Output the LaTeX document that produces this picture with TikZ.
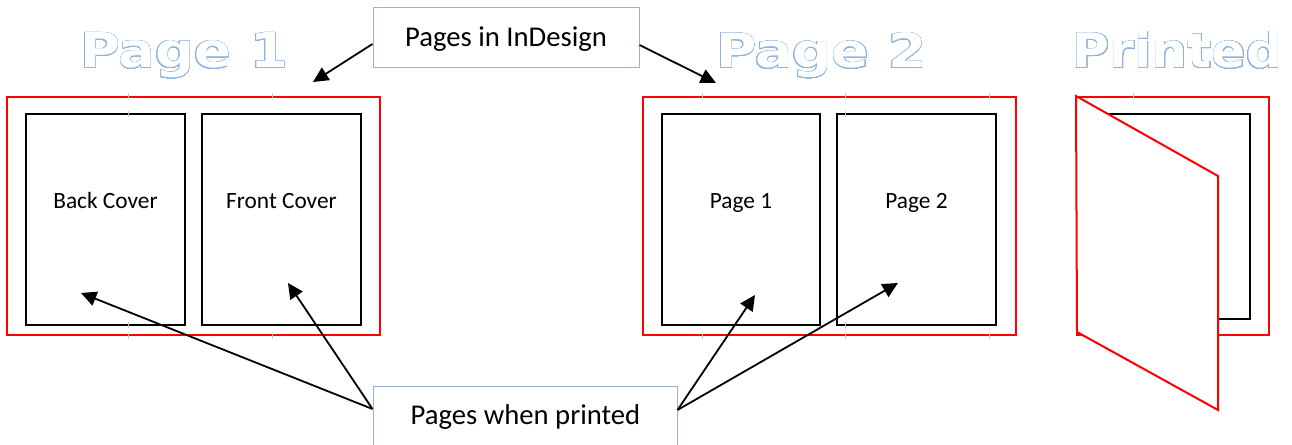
\documentclass[tikz,border=0pt]{standalone}
\usepackage{fontspec}
\setmainfont{Carlito}
\newfontfamily\headfont{DejaVu Sans}
\usepackage{contour}
\usetikzlibrary{arrows.meta,calc,fit}

\definecolor{frameRed}{RGB}{255,0,0}
\definecolor{calloutBlue}{RGB}{149,179,215}
\definecolor{titleBlue}{RGB}{141,180,226}
\definecolor{guideGray}{RGB}{200,200,200}
\contourlength{0.32pt}
\contournumber{48}

\tikzset{
  spread/.style={draw=frameRed, line width=1.5pt, inner sep=0pt},
  leaf/.style={draw=black, line width=1.4pt, inner sep=0pt},
  leaflabel/.style={font=\fontsize{17.5}{20}\selectfont, anchor=base, inner sep=0pt},
  callout/.style={draw=calloutBlue, line width=0.75pt, fill=white, inner sep=0pt},
  callouttext/.style={font=\fontsize{21.5}{24}\selectfont, anchor=base, inner sep=0pt},
  pointer/.style={line width=1.35pt, -{Triangle[length=11.5pt,width=11pt]}},
  headline/.style={anchor=base, inner sep=0pt, text=white},
  guide/.style={draw=guideGray, line width=0.5pt},
}

\newcommand{\outlined}[3]{\resizebox{#1}{#2}{\headfont\bfseries\fontsize{37}{40}\selectfont\contour{titleBlue}{#3}}}

\begin{document}
\begin{tikzpicture}[x=0.75pt, y=-0.75pt]
  \clip (0,0) rectangle (1292,445);

  % outlined headings
  \node[headline] (head1) at (184,68) {\outlined{156pt}{26.25pt}{Page 1}};
  \node[headline] (head2) at (821.5,68) {\outlined{158pt}{26.25pt}{Page 2}};
  \node[headline] (head3) at (1177.5,68) {\outlined{157pt}{27pt}{Printed}};

  % first spread: covers
  \node[fit={(7,97) (380,335)}, spread] (spreadA) {};
  \node[fit={(26,114) (185,325)}, leaf] (back) {};
  \node[fit={(202,114) (361,325)}, leaf] (front) {};
  \node[leaflabel] (backlbl) at (105.5,209) {Back Cover};
  \node[leaflabel] (frontlbl) at (281.5,209) {Front Cover};

  % second spread: inner pages
  \node[fit={(643,97) (1016,335)}, spread] (spreadB) {};
  \node[fit={(662,114) (820,325)}, leaf] (pone) {};
  \node[fit={(837,114) (996,325)}, leaf] (ptwo) {};
  \node[leaflabel] (ponelbl) at (741,209) {Page 1};
  \node[leaflabel] (ptwolbl) at (916.5,209) {Page 2};

  % folded booklet
  \node[fit={(1077,97) (1269,335)}, spread] (booklet) {};
  \node[fit={(1095,114) (1250,319)}, leaf] (inside) {};
  \filldraw[fill=white, draw=frameRed, line width=1.5pt, line join=miter]
    (booklet.north west) -- (1218,176) -- (1218,410) -- (1077,332) -- cycle;

  % layout guide ticks
  \foreach \gx in {128,272,702,845,989}{
    \draw[guide] (\gx,93) -- (\gx,99);
    \draw[guide] (\gx,333) -- (\gx,339);
  }
  \draw[guide] (128,111) -- (128,117);
  \draw[guide] (128,322) -- (128,328);
  \draw[guide] (845,111) -- (845,117);
  \draw[guide] (845,322) -- (845,328);
  \draw[guide] (1133,93) -- (1133,99);

  % callouts
  \node[fit={(373,8) (639,68)}, callout] (indesign) {};
  \node[callouttext] (indesignlbl) at (506,47) {Pages in InDesign};
  \node[fit={(373,386) (677,452)}, callout] (printed) {};
  \node[callouttext] (printedlbl) at (525.5,424) {Pages when printed};

  % arrow targets
  \coordinate (tipA) at (313,82);
  \coordinate (tipB) at (716,83);
  \coordinate (tipBack) at (81,293);
  \coordinate (tipFront) at (288,283);
  \coordinate (tipOne) at (755,295);
  \coordinate (tipTwo) at (898,283);

  \draw[pointer] ([yshift=-4.5pt]indesign.west) -- (tipA);
  \draw[pointer] ([yshift=-5.25pt]indesign.east) -- (tipB);
  \draw[pointer] ([yshift=7.5pt]printed.west) -- (tipBack);
  \draw[pointer] ([yshift=7.5pt]printed.west) -- (tipFront);
  \draw[pointer] ([yshift=6.75pt]printed.east) -- (tipOne);
  \draw[pointer] ([yshift=6.75pt]printed.east) -- (tipTwo);
\end{tikzpicture}
\end{document}
